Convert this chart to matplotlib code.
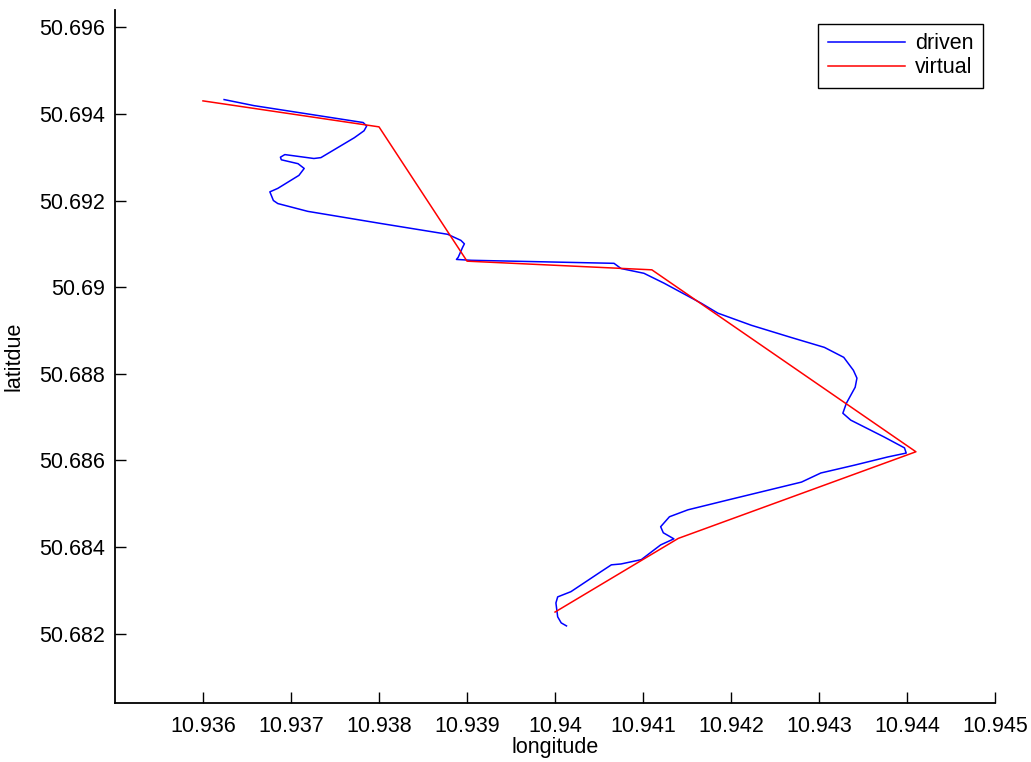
import matplotlib
matplotlib.use("Agg")
import matplotlib.pyplot as plt

plt.rcParams['font.family'] = ['Liberation Sans', 'DejaVu Sans']

# driven track
driven_lon = [10.93624, 10.93658, 10.93782, 10.93786, 10.93783, 10.93772, 10.93734,
              10.93726, 10.93693, 10.93688, 10.93689, 10.93708, 10.93715, 10.93709,
              10.93685, 10.93676, 10.93680, 10.93685, 10.93719, 10.93802, 10.93878,
              10.93893, 10.93897, 10.93895, 10.93890, 10.93888, 10.93905, 10.94067,
              10.94075, 10.94101, 10.94124, 10.94166, 10.94185, 10.94223, 10.94268,
              10.94306, 10.94328, 10.94339, 10.94343, 10.94341, 10.94331, 10.94327,
              10.94336, 10.94374, 10.94397, 10.94399, 10.94378, 10.94340, 10.94302,
              10.94280, 10.94197, 10.94151, 10.94130, 10.94120, 10.94123, 10.94135,
              10.94120, 10.94098, 10.94075, 10.94064, 10.94052, 10.94018, 10.94003,
              10.94001, 10.94003, 10.94007, 10.94013]
driven_lat = [50.69433, 50.69419, 50.69380, 50.69372, 50.69361, 50.69345, 50.69299,
              50.69297, 50.69306, 50.69300, 50.69294, 50.69285, 50.69274, 50.69258,
              50.69228, 50.69220, 50.69200, 50.69193, 50.69175, 50.69147, 50.69122,
              50.69108, 50.69100, 50.69092, 50.69069, 50.69064, 50.69062, 50.69055,
              50.69043, 50.69032, 50.69009, 50.68963, 50.68940, 50.68912, 50.68884,
              50.68861, 50.68838, 50.68808, 50.68790, 50.68769, 50.68732, 50.68709,
              50.68693, 50.68654, 50.68629, 50.68617, 50.68608, 50.68589, 50.68571,
              50.68550, 50.68509, 50.68486, 50.68470, 50.68447, 50.68433, 50.68419,
              50.68405, 50.68371, 50.68361, 50.68359, 50.68343, 50.68297, 50.68285,
              50.68271, 50.68239, 50.68225, 50.68218]

# virtual route
virtual_lon = [10.936, 10.938, 10.939, 10.9411, 10.9441, 10.9414, 10.9400]
virtual_lat = [50.6943, 50.6937, 50.6906, 50.6904, 50.6862, 50.6842, 50.6825]

x_ticks = [10.936, 10.937, 10.938, 10.939, 10.94, 10.941, 10.942, 10.943, 10.944, 10.945]
x_labels = ['10.936', '10.937', '10.938', '10.939', '10.94', '10.941', '10.942',
            '10.943', '10.944', '10.945']
y_ticks = [50.682, 50.684, 50.686, 50.688, 50.69, 50.692, 50.694, 50.696]
y_labels = ['50.682', '50.684', '50.686', '50.688', '50.69', '50.692', '50.694', '50.696']

fig = plt.figure(figsize=(10.31, 7.62), dpi=100)
ax = fig.add_axes([0.1115, 0.0774, 0.8537, 0.9096])

ax.plot(driven_lon, driven_lat, color='#0000ff', lw=1.1, label='driven')
ax.plot(virtual_lon, virtual_lat, color='#ff0000', lw=1.1, label='virtual')

ax.set_xlim(10.935, 10.945)
ax.set_ylim(50.6804, 50.6964)
ax.set_xticks(x_ticks)
ax.set_xticklabels(x_labels)
ax.set_yticks(y_ticks)
ax.set_yticklabels(y_labels)

for s in ['top', 'right']:
    ax.spines[s].set_visible(False)
for s in ['left', 'bottom']:
    ax.spines[s].set_linewidth(1.3)
ax.tick_params(direction='in', length=8, width=1, labelsize=15.5)
ax.tick_params(axis='y', pad=7)
ax.tick_params(axis='x', pad=9)

ax.set_xlabel('longitude', fontsize=15.5, labelpad=0)
ax.set_ylabel('latitdue', fontsize=15.5, labelpad=11)

leg = ax.legend(loc='upper right', bbox_to_anchor=(0.9985, 0.9955), fontsize=15.5,
                fancybox=False, edgecolor='black', framealpha=1,
                handlelength=3.6, borderpad=0.45, labelspacing=0.12, handletextpad=0.45)
leg.get_frame().set_linewidth(1.0)

fig.savefig('out.png', dpi=100)
